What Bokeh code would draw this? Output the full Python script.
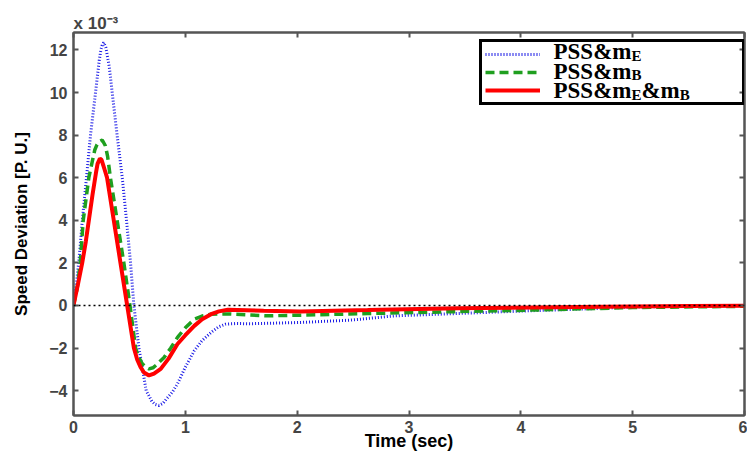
from bokeh.plotting import figure
from bokeh.models import Range1d, LinearAxis, FixedTicker, Span, Label, Legend, LegendItem
from bokeh.embed import file_html
from bokeh.resources import INLINE

# ---------------- data (speed deviation in units of 1e-3 p.u.) ----------------
t_me = [0, 0.03, 0.05, 0.078, 0.116, 0.152, 0.197, 0.23, 0.245, 0.255, 0.27, 0.29, 0.32,
        0.346, 0.39, 0.436, 0.474, 0.51, 0.54, 0.585, 0.65, 0.70, 0.73, 0.765, 0.80, 0.83,
        0.88, 0.93, 1.0, 1.08, 1.15, 1.23, 1.3, 1.36, 1.45, 1.58, 2.03, 2.48, 2.87, 3.43,
        4.03, 4.48, 5.0, 5.5, 6.0]
v_me = [0, 1.2, 2.2, 3.95, 6.0, 8.0, 10.0, 11.5, 12.0, 12.2, 12.35, 12.1, 11.2,
        10.0, 8.0, 6.0, 4.0, 2.0, 0.0, -2.0, -4.0, -4.5, -4.65, -4.7, -4.6, -4.4,
        -4.1, -3.68, -2.9, -2.13, -1.65, -1.27, -1.0, -0.88, -0.85, -0.86, -0.8, -0.69, -0.49, -0.38,
        -0.26, -0.18, -0.08, -0.03, 0.0]

t_mb = [0, 0.033, 0.06, 0.087, 0.137, 0.19, 0.21, 0.23, 0.257, 0.285, 0.305, 0.33, 0.39, 0.45,
        0.505, 0.555, 0.58, 0.61, 0.64, 0.675, 0.71, 0.74, 0.81, 0.87, 0.93, 1.0, 1.08, 1.15,
        1.23, 1.3, 1.38, 1.73, 2.18, 2.63, 3.43, 4.09, 5.0, 6.0]
v_mb = [0, 0.8, 2.0, 4.0, 6.0, 7.3, 7.55, 7.7, 7.77, 7.5, 7.0, 6.0, 4.0, 2.0,
        0.0, -2.0, -2.4, -2.7, -2.88, -2.98, -2.93, -2.8, -2.44, -2.0, -1.5, -1.05, -0.65, -0.5,
        -0.41, -0.4, -0.4, -0.49, -0.44, -0.38, -0.29, -0.22, -0.1, -0.04]

t_meb = [0, 0.04, 0.078, 0.11, 0.14, 0.17, 0.20, 0.215, 0.236, 0.25, 0.265, 0.28, 0.3, 0.36, 0.42,
         0.48, 0.54, 0.57, 0.60, 0.63, 0.675, 0.72, 0.78, 0.85, 0.93, 1.0, 1.08, 1.15, 1.23,
         1.30, 1.38, 1.7, 2.03, 2.63, 3.43, 4.5, 5.5, 6.0]
v_meb = [0, 1.0, 2.0, 3.0, 4.1, 5.2, 6.2, 6.65, 6.9, 6.85, 6.6, 6.35, 6.0, 4.0, 2.0,
         0.0, -2.0, -2.55, -2.9, -3.15, -3.29, -3.2, -2.98, -2.5, -1.81, -1.4, -0.96, -0.65, -0.41,
         -0.28, -0.2, -0.25, -0.28, -0.22, -0.13, -0.07, -0.03, -0.02]

x_ticks = [0, 1, 2, 3, 4, 5, 6]
y_ticks = [-4, -2, 0, 2, 4, 6, 8, 10, 12]

# ---------------- layout constants ----------------
W, H = 747, 460
BL, BR, BT, BB = 73, 3, 32, 45
X0, X1 = 0, 6
Y0, Y1 = -5.17, 12.82
FRAME_L = BL
FRAME_T = BT
FRAME_W = W - BL - BR
FRAME_H = H - BT - BB


def dx(px):
    return X0 + (px - FRAME_L) / FRAME_W * (X1 - X0)


def dy(py):
    return Y1 - (py - FRAME_T) / FRAME_H * (Y1 - Y0)


FRAME_COLOR = "#555555"
TICK_COLOR = "#444444"
SANS = "Liberation Sans"
SERIF = "Liberation Serif"

p = figure(width=W, height=H, x_range=Range1d(X0, X1), y_range=Range1d(Y0, Y1),
           output_backend="svg", toolbar_location=None,
           min_border_left=BL, min_border_right=BR, min_border_top=BT, min_border_bottom=BB)
p.grid.visible = False
p.outline_line_color = FRAME_COLOR
p.outline_line_width = 2
p.background_fill_color = "white"
p.border_fill_color = "white"

# exponent of the y axis, shown as the title above the frame's left corner
p.title.text = "x 10\u207b\u00b3"
p.title.align = "left"
p.title.offset = 0
p.title.standoff = 0
p.title.text_font = SANS
p.title.text_font_style = "bold"
p.title.text_font_size = "17px"
p.title.text_color = TICK_COLOR


def style_axis(ax, ticks):
    ax.ticker = FixedTicker(ticks=ticks)
    ax.major_tick_in = 5
    ax.major_tick_out = 0
    ax.minor_tick_line_color = None
    ax.major_tick_line_color = FRAME_COLOR
    ax.major_tick_line_width = 2
    ax.axis_line_color = FRAME_COLOR
    ax.axis_line_width = 2
    ax.major_label_text_font = SANS
    ax.major_label_text_font_style = "bold"
    ax.major_label_text_font_size = "16px"
    ax.major_label_text_color = TICK_COLOR
    ax.axis_label_text_font = SANS
    ax.axis_label_text_font_style = "bold"
    ax.axis_label_text_color = "black"


xa = p.xaxis[0]
style_axis(xa, x_ticks)
xa.axis_label = "Time (sec)"
xa.axis_label_text_font_size = "18px"
xa.major_label_standoff = 5
xa.axis_label_standoff = -5

ya = p.yaxis[0]
style_axis(ya, y_ticks)
ya.axis_label = "Speed Deviation [P. U.]"
ya.axis_label_text_font_size = "17px"
ya.major_label_standoff = 6
ya.axis_label_standoff = 15

for loc, ticks in (("above", x_ticks), ("right", y_ticks)):
    ax = LinearAxis()
    style_axis(ax, ticks)
    ax.major_label_text_font_size = "0px"
    ax.major_label_text_color = None
    ax.major_label_standoff = 0
    p.add_layout(ax, loc)

# zero reference line
p.add_layout(Span(location=0, dimension="width", line_color="black",
                  line_width=1.5, line_dash="2 3"))

r_me = p.line(t_me, v_me, line_color="#1a1ae6", line_width=3, line_dash="1 2")
r_mb = p.line(t_mb, v_mb, line_color="#1f9f1f", line_width=3.5, line_dash="9 5")
r_meb = p.line(t_meb, v_meb, line_color="#ff0000", line_width=4)

# legend texts with subscripts, drawn as labels (cap centres given in page px)
MAIN_FS, SUB_FS = 23, 15
w_main = {"PSS&m": 3.389, "&m": 1.666}
w_sub = 0.667
row_centers = [51.7, 71.0, 90.7]
rows = [[("PSS&m", 0), ("E", 1)],
        [("PSS&m", 0), ("B", 1)],
        [("PSS&m", 0), ("E", 1), ("&m", 0), ("B", 1)]]
for c, parts in zip(row_centers, rows):
    xpx = 553
    for txt, sub in parts:
        fs = SUB_FS if sub else MAIN_FS
        mid = c + (3.5 if sub else -0.5)
        p.add_layout(Label(x=dx(xpx), y=dy(mid), text=txt, text_font=SERIF,
                           text_font_style="bold", text_font_size=f"{fs}px",
                           text_color="black", text_align="left",
                           text_baseline="middle"))
        xpx += (w_sub * fs) if sub else (w_main[txt] * fs)

# legend (sample lines)
legend = Legend(items=[LegendItem(label=" ", renderers=[r]) for r in (r_me, r_mb, r_meb)],
                location=(406, 310), padding=3, spacing=0, margin=0,
                glyph_width=55, glyph_height=18, label_height=18, label_width=185,
                label_standoff=14, label_text_font_size="2px",
                border_line_color="black", border_line_width=3, border_line_alpha=1.0,
                background_fill_color=None)
p.add_layout(legend)

open("out.html", "w").write(file_html(p, INLINE))
